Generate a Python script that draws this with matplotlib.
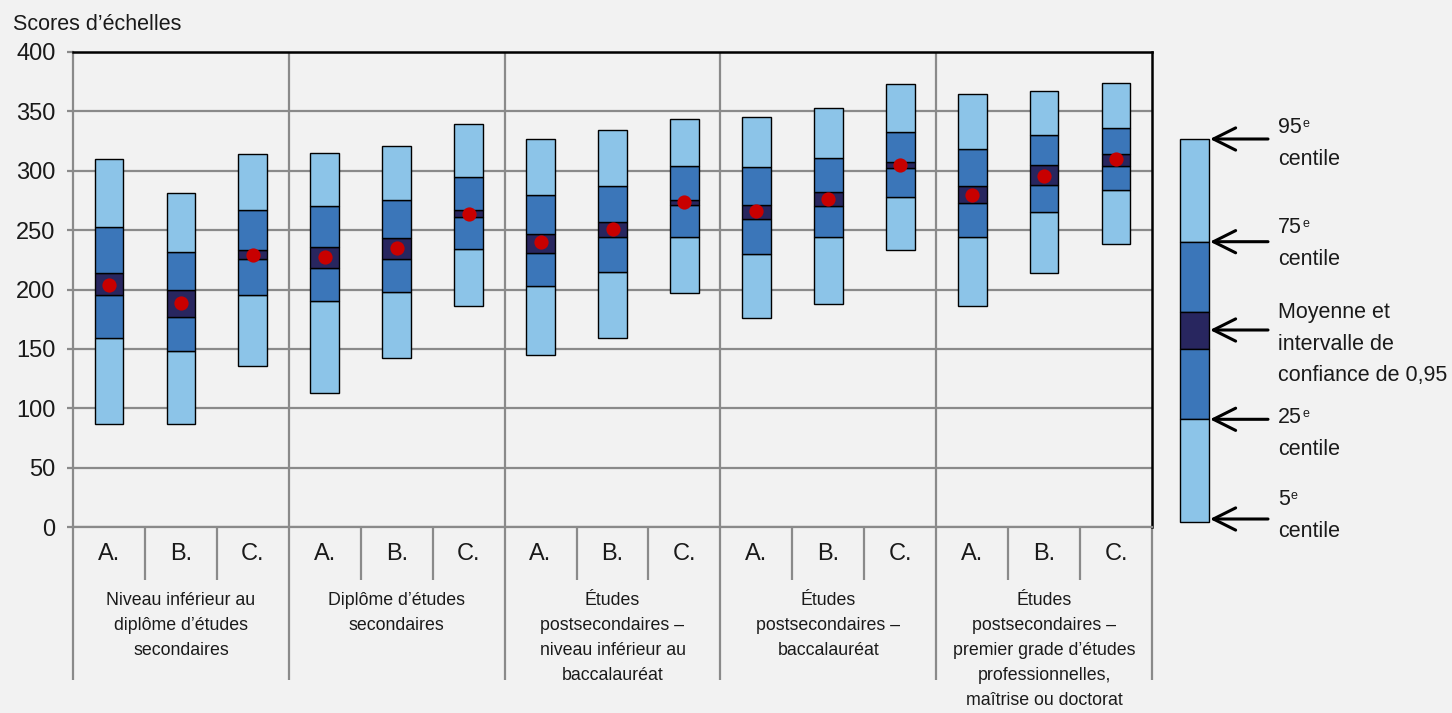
import matplotlib
matplotlib.use("Agg")
import matplotlib.pyplot as plt
from matplotlib.patches import Rectangle

plt.rcParams["font.family"] = ["Liberation Sans", "DejaVu Sans"]

# ---- data -------------------------------------------------------------
groups = [
    "Niveau inférieur au\ndiplôme d’études\nsecondaires",
    "Diplôme d’études\nsecondaires",
    "Études\npostsecondaires –\nniveau inférieur au\nbaccalauréat",
    "Études\npostsecondaires –\nbaccalauréat",
    "Études\npostsecondaires –\npremier grade d’études\nprofessionnelles,\nmaîtrise ou doctorat",
]
subgroups = ["A.", "B.", "C."]

p5 = [87, 87, 136, 113, 142, 186, 145, 159, 197, 176, 188, 233, 186, 214, 238]
p25 = [159, 148, 195, 190, 198, 234, 203, 215, 244, 230, 244, 278, 244, 265, 284]
ci_lo = [195, 177, 226, 218, 226, 261, 231, 244, 271, 259, 270, 302, 273, 288, 304]
mean = [204, 189, 229, 227, 235, 264, 240, 251, 274, 266, 276, 305, 280, 296, 310]
ci_hi = [214, 200, 233, 236, 243, 267, 247, 257, 275, 271, 282, 307, 287, 305, 314]
p75 = [253, 232, 267, 270, 275, 295, 280, 287, 304, 303, 311, 333, 318, 330, 336]
p95 = [310, 281, 314, 315, 321, 339, 327, 334, 344, 345, 353, 373, 365, 367, 374]

yticks = [0, 50, 100, 150, 200, 250, 300, 350, 400]
ylabel = "Scores d’échelles"

legend_labels = [
    ["95", "centile"],
    ["75", "centile"],
    ["Moyenne et", "intervalle de", "confiance de 0,95"],
    ["25", "centile"],
    ["5", "centile"],
]
legend_sup = [True, True, False, True, True]

# ---- style -------------------------------------------------------------
BG = "#f2f2f2"
LIGHT = "#8cc4e8"
MID = "#3b76b9"
DARK = "#28265f"
DOT = "#c80000"
GRID = "#8a8a8a"
TXT = "#1a1a1a"

W, H = 1452, 713
fig = plt.figure(figsize=(W / 100, H / 100), dpi=100, facecolor=BG)

ax_l, ax_r, ax_t, ax_b = 73, 1152, 52, 527
ax = fig.add_axes([ax_l / W, 1 - ax_b / H, (ax_r - ax_l) / W, (ax_b - ax_t) / H])
ax.set_facecolor(BG)
ax_h = ax_b - ax_t

n = len(p5)
x = list(range(n))
bw = 0.40

segments = [
    (p5, p25, LIGHT),
    (p25, ci_lo, MID),
    (ci_lo, ci_hi, DARK),
    (ci_hi, p75, MID),
    (p75, p95, LIGHT),
]
for lo, hi, col in segments:
    ax.bar(x, [h - l for l, h in zip(lo, hi)], bottom=lo, width=bw,
           color=col, edgecolor="black", linewidth=1.0, zorder=3)
ax.scatter(x, mean, s=105, color=DOT, zorder=4, linewidths=0)

ax.set_xlim(-0.5, n - 0.5)
ax.set_ylim(0, 400)
ax.set_yticks(yticks)
ax.set_yticklabels([str(v) for v in yticks], fontsize=17, color=TXT)
ax.tick_params(axis="y", length=4.5, width=1.6, color=GRID, pad=8)
ax.set_xticks([])
ax.grid(axis="y", color=GRID, linewidth=1.6, zorder=0)
ax.set_axisbelow(True)

for s in ("left", "bottom"):
    ax.spines[s].set_color(GRID)
    ax.spines[s].set_linewidth(1.6)
for s in ("top", "right"):
    ax.spines[s].set_color("black")
    ax.spines[s].set_linewidth(1.8)

# group separators inside the plot
for g in range(1, len(groups)):
    ax.axvline(g * 3 - 0.5, color=GRID, linewidth=1.6, zorder=1)

# category axis below the plot
xt = ax.get_xaxis_transform()
short = 53 / ax_h
long_ = 153 / ax_h
for i in range(n + 1):
    xv = i - 0.5
    depth = long_ if i % 3 == 0 else short
    ax.plot([xv, xv], [0, -depth], transform=xt, color=GRID,
            linewidth=1.6, clip_on=False, solid_capstyle="butt")

for i in range(n):
    ax.text(i, -27 / ax_h, subgroups[i % 3], transform=xt, ha="center",
            va="center", fontsize=17, color=TXT)

for g, label in enumerate(groups):
    ax.text(g * 3 + 1, -65 / ax_h, label, transform=xt, ha="center",
            va="top", fontsize=12.8, color=TXT, linespacing=1.62)

fig.text(13 / W, 1 - 25 / H, ylabel, ha="left", va="center",
         fontsize=15.5, color=TXT)

# ---- key on the right ---------------------------------------------------
lax = fig.add_axes([0, 0, 1, 1])
lax.set_xlim(0, W)
lax.set_ylim(H, 0)
lax.axis("off")
lax.patch.set_alpha(0)

key_x0, key_x1 = 1180, 1209
key_edges = [139, 241.7, 311.7, 349, 419.3, 522.3]
key_cols = [LIGHT, MID, DARK, MID, LIGHT]
for (top, bot), col in zip(zip(key_edges[:-1], key_edges[1:]), key_cols):
    lax.add_patch(Rectangle((key_x0, top), key_x1 - key_x0, bot - top,
                            facecolor=col, edgecolor="black", linewidth=1.0))

arrow_y = [139, 241.7, 330, 419.3, 519]
for ay in arrow_y:
    lax.annotate("", xy=(key_x1 + 1, ay), xytext=(1268, ay),
                 arrowprops=dict(arrowstyle="->,head_length=0.8,head_width=0.4",
                                 color="black", linewidth=2.2,
                                 mutation_scale=20, shrinkA=0, shrinkB=0))

label_base = [133, 233, 318, 423, 505]
line_step = 31.7
for lines, sup, yb in zip(legend_labels, legend_sup, label_base):
    for k, line in enumerate(lines):
        t = lax.text(1278, yb + k * line_step, line, ha="left", va="baseline",
                     fontsize=15.5, color=TXT)
        if sup and k == 0:
            lax.annotate("e", xy=(1, 1), xycoords=t, xytext=(0.5, -0.5),
                         textcoords="offset points", ha="left", va="top",
                         fontsize=9, color=TXT)

fig.savefig("out.png", dpi=100, facecolor=BG)
